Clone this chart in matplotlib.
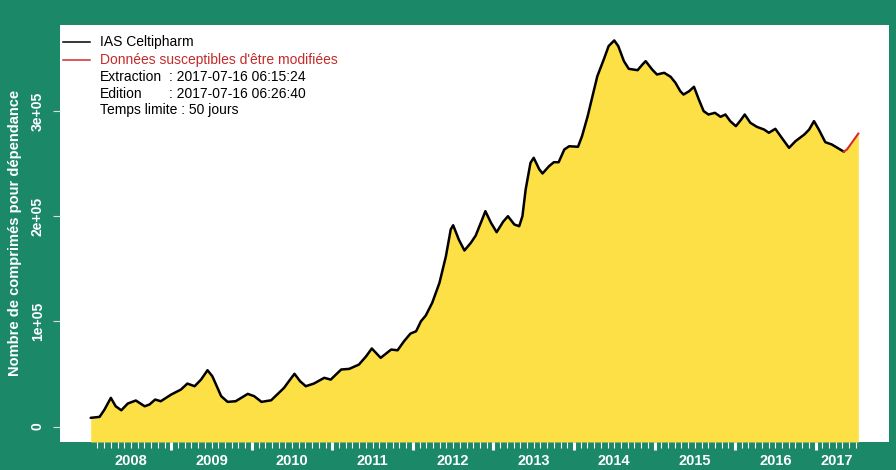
import matplotlib
matplotlib.use("Agg")
import matplotlib.pyplot as plt
from matplotlib.lines import Line2D
import matplotlib.transforms as mtransforms
import numpy as np

plt.rcParams['font.family'] = ['Liberation Sans', 'DejaVu Sans']

# ---- data (decimal years, number of tablets) ----
dates = [2008.00, 2008.11, 2008.17, 2008.25, 2008.31, 2008.38, 2008.46, 2008.56, 2008.67, 2008.73,
         2008.80, 2008.87, 2009.00, 2009.12, 2009.20, 2009.29, 2009.37, 2009.45, 2009.51, 2009.62,
         2009.70, 2009.80, 2009.95, 2010.03, 2010.12, 2010.24, 2010.40, 2010.46, 2010.53, 2010.60,
         2010.67, 2010.77, 2010.90, 2010.98, 2011.11, 2011.21, 2011.33, 2011.42, 2011.49, 2011.60,
         2011.73, 2011.81, 2011.89, 2011.97, 2012.04, 2012.10, 2012.16, 2012.24, 2012.33, 2012.41,
         2012.47, 2012.50, 2012.57, 2012.64, 2012.72, 2012.78, 2012.86, 2012.90, 2012.97, 2013.04,
         2013.12, 2013.18, 2013.26, 2013.32, 2013.36, 2013.40, 2013.46, 2013.50, 2013.57, 2013.61,
         2013.69, 2013.75, 2013.81, 2013.88, 2013.94, 2014.05, 2014.10, 2014.17, 2014.23, 2014.29,
         2014.37, 2014.43, 2014.50, 2014.55, 2014.62, 2014.68, 2014.79, 2014.85, 2014.89, 2014.97,
         2015.03, 2015.12, 2015.20, 2015.26, 2015.32, 2015.36, 2015.43, 2015.49, 2015.55, 2015.61,
         2015.67, 2015.75, 2015.82, 2015.88, 2015.94, 2016.01, 2016.07, 2016.12, 2016.19, 2016.27,
         2016.36, 2016.42, 2016.50, 2016.58, 2016.67, 2016.75, 2016.86, 2016.92, 2016.98, 2017.04,
         2017.12, 2017.20, 2017.29, 2017.35, 2017.39, 2017.53]
values_k = [8.3, 9.2, 16.0, 27.3, 19.3, 15.5, 21.9, 24.8, 19.3, 21.0,
            25.7, 24.1, 30.5, 35.2, 40.9, 38.4, 44.7, 53.6, 47.9, 28.9,
            23.5, 24.1, 31.1, 28.9, 23.5, 25.0, 36.8, 43.1, 50.2, 43.1,
            38.4, 40.9, 46.4, 44.7, 54.3, 54.9, 59.0, 66.9, 74.3, 65.4,
            73.3, 72.6, 81.2, 88.5, 90.7, 100.2, 105.7, 117.8, 136.8, 162.1,
            187.6, 191.6, 178.0, 167.6, 174.9, 181.8, 197.1, 205.0, 193.9, 185.0,
            194.9, 200.2, 192.3, 190.7, 200.2, 225.6, 251.0, 255.8, 244.7, 240.9,
            247.8, 251.6, 251.6, 263.7, 266.8, 266.3, 276.4, 295.4, 314.5, 333.5,
            349.4, 362.1, 367.5, 362.1, 347.8, 340.5, 339.2, 344.6, 347.8, 339.9,
            335.1, 336.7, 332.9, 327.2, 319.2, 316.0, 319.2, 323.4, 311.3, 300.2,
            297.0, 298.6, 294.8, 297.0, 290.7, 285.9, 291.6, 297.0, 289.1, 285.3,
            282.7, 279.6, 283.4, 274.8, 265.3, 271.6, 278.0, 282.7, 290.7, 282.7,
            270.7, 268.5, 264.4, 261.6, 263.8, 278.8]
modifiable_from = 2017.35   # start of "données susceptibles d'être modifiées"
years = [2008, 2009, 2010, 2011, 2012, 2013, 2014, 2015, 2016, 2017]
yticks = [0, 100000, 200000, 300000]
ytick_labels = ["0", "1e+05", "2e+05", "3e+05"]

legend_series = ["IAS Celtipharm", "Données susceptibles d'être modifiées"]
info_labels = ["Extraction", "Edition"]
info_values = [": 2017-07-16 06:15:24", ": 2017-07-16 06:26:40"]
info_last = "Temps limite : 50 jours"
ylabel = "Nombre de comprimés pour dépendance"

# ---- styling ----
GREEN = '#1b8968'
YELLOW = '#fde045'
RED = '#d42a2a'
W, H = 896, 470

t = np.array(dates)
v = np.array(values_k) * 1000

fig = plt.figure(figsize=(W / 100, H / 100), dpi=100, facecolor=GREEN)
L, R, T, B = 60, 889, 25, 442
ax = fig.add_axes([L / W, (H - B) / H, (R - L) / W, (B - T) / H])
ax.set_facecolor('white')
for s in ax.spines.values():
    s.set_visible(False)

ymin = -0.04 * v.max()
ymax = v.max() * 1.04
ax.set_xlim(t[0] - 0.04 * (t[-1] - t[0]), t[-1] + 0.04 * (t[-1] - t[0]))
ax.set_ylim(ymin, ymax)

ax.fill_between(t, v, ymin, color=YELLOW, lw=0, zorder=1)
mask_old = t <= modifiable_from + 1e-9
mask_new = t >= modifiable_from - 1e-9
ax.plot(t[mask_old], v[mask_old], color='black', lw=1.8, zorder=3,
        solid_joinstyle='round', solid_capstyle='round')
ax.plot(t[mask_new], v[mask_new], color=RED, lw=1.5, zorder=3)

# x ticks: monthly minor, yearly major
months = [2008 + m / 12 for m in range(1, int((t[-1] - 2008) * 12) + 1)]
major = [y for y in years if y > 2008]
minor = [m for m in months if abs(m - round(m)) > 1e-6]
ax.set_xticks(major)
ax.set_xticklabels([])
ax.set_xticks(minor, minor=True)
ax.tick_params(axis='x', which='major', length=5.5, width=2.2, color='white', direction='out')
ax.tick_params(axis='x', which='minor', length=4.5, width=0.8, color='white', direction='out')

trans = mtransforms.blended_transform_factory(ax.transData, ax.transAxes)
for y in years:
    lo = max(y, t[0])
    hi = min(y + 1, t[-1])
    ax.text((lo + hi) / 2, -0.045, str(y), transform=trans, ha='center', va='center',
            color='white', fontsize=10.5, fontweight='bold')

ax.set_yticks(yticks)
ax.set_yticklabels(ytick_labels, rotation=90, va='center', color='white',
                   fontsize=10, fontweight='bold')
ax.tick_params(axis='y', length=5, width=0.8, color='#dddddd', pad=6)

fig.text(15 / W, 1 - 233 / H, ylabel, rotation=90, ha='center', va='center',
         color='white', fontsize=10.5, fontweight='bold')

# legend (manual, frameless)
def fy(py):
    return 1 - py / H

rows = [42, 60, 77, 94, 110]
fig.add_artist(Line2D([63 / W, 90 / W], [fy(rows[0]), fy(rows[0])], color='black', lw=1.1))
fig.add_artist(Line2D([63 / W, 90 / W], [fy(rows[1]), fy(rows[1])], color=RED, lw=1.1))
fs = 10
fig.text(100 / W, fy(rows[0]), legend_series[0], color='black', fontsize=fs, va='center')
fig.text(100 / W, fy(rows[1]), legend_series[1], color='#c42a2a', fontsize=fs, va='center')
for i, (lab, val) in enumerate(zip(info_labels, info_values)):
    fig.text(100 / W, fy(rows[2 + i]), lab, color='black', fontsize=fs, va='center')
    fig.text(169 / W, fy(rows[2 + i]), val, color='black', fontsize=fs, va='center')
fig.text(100 / W, fy(rows[4]), info_last, color='black', fontsize=fs, va='center')

fig.savefig('out.png', dpi=100, facecolor=GREEN)
